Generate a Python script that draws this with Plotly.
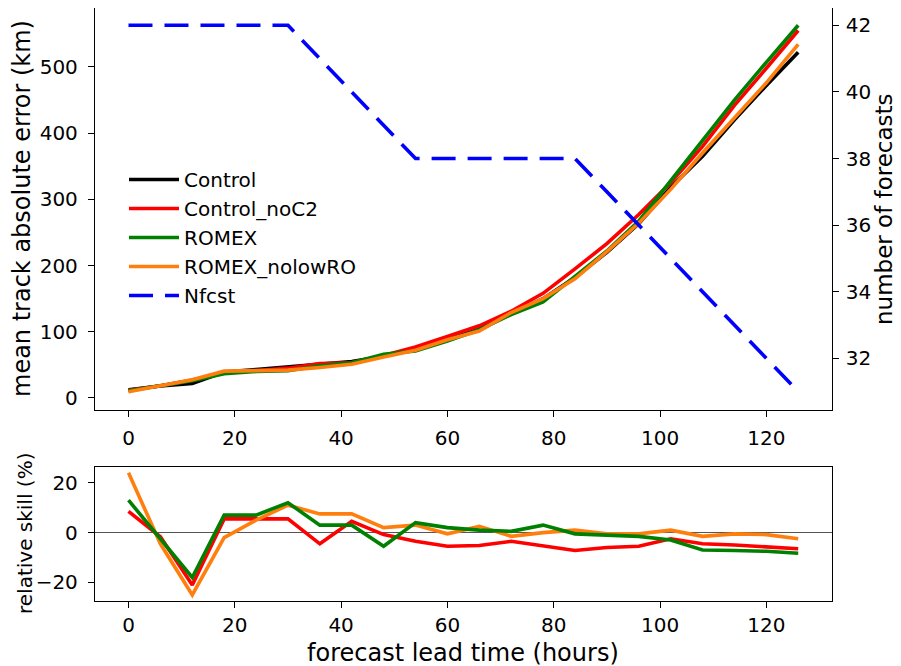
import plotly.graph_objects as go

# ---------------- data ----------------
lead_hours = [0, 6, 12, 18, 24, 30, 36, 42, 48, 54, 60, 66, 72, 78, 84, 90, 96, 102, 108, 114, 120, 126]

control = [12.5, 18, 22, 39, 43, 47, 50, 55, 63, 74, 88, 104, 127, 150, 182, 220, 263, 318, 365, 420, 472, 522]
control_noC2 = [11.4, 18.3, 27, 38, 41, 45, 52, 53, 64, 77, 93, 109, 131, 158, 195, 233, 277, 325, 380, 442, 498, 555]
romex = [10.9, 18.5, 26, 36.5, 40, 41, 48.5, 53, 66, 71, 86, 103, 126, 145, 183, 222, 267, 328, 390, 450, 507, 563]
romex_nolowRO = [9.5, 18.8, 27.5, 40.5, 41, 42, 46, 51, 62, 72, 88, 101, 129, 150, 180, 221, 264, 315, 370, 422, 476, 534]

nfcst = [42, 42, 42, 42, 42, 42, 41, 40, 39, 38, 38, 38, 38, 38, 38, 37, 36, 35, 34, 33, 32, 31]

skill_noC2 = [8.5, -1.7, -21, 5.5, 5.5, 5.5, -4.5, 4.5, -0.8, -3.5, -5.5, -5.2, -3.5, -5.2, -7.2, -6, -5.5, -2.5, -4.5, -5, -5.8, -6.5]
skill_romex = [13, -2.6, -18, 7, 7, 12, 3, 3, -5.5, 4, 2, 1, 0.5, 3, -0.5, -1, -1.5, -3, -7, -7.2, -7.5, -8.3]
skill_nolowRO = [24, -4.5, -25, -2, 5, 11, 7.5, 7.5, 2, 3, -0.5, 2.5, -1.5, 0, 1, -0.5, -0.5, 1, -1.5, -0.5, -0.8, -2.5]

x_ticks = [0, 20, 40, 60, 80, 100, 120]

# ---------------- styles ----------------
FONT = "DejaVu Sans"
LW = 3.6
C_BLACK = "#000000"
C_RED = "#ff0000"
C_GREEN = "#008000"
C_ORANGE = "#ff7f0e"
C_BLUE = "#0000ff"

# page has an 8px body margin: figure coords = page coords - 8
OFF = 8
W, H = 901 - OFF, 666 - OFF


def px(x):
    return (x - OFF) / W


def py(y):
    return 1 - (y - OFF) / H


fig = go.Figure()

# top panel
for name, vals, col in [("Control", control, C_BLACK),
                        ("Control_noC2", control_noC2, C_RED),
                        ("ROMEX", romex, C_GREEN),
                        ("ROMEX_nolowRO", romex_nolowRO, C_ORANGE)]:
    fig.add_trace(go.Scatter(x=lead_hours, y=vals, mode="lines", name=name,
                             line=dict(color=col, width=LW), xaxis="x", yaxis="y"))

fig.add_trace(go.Scatter(x=lead_hours, y=nfcst, mode="lines", name="Nfcst",
                         line=dict(color=C_BLUE, width=LW, dash="24px,12px"),
                         xaxis="x", yaxis="y2"))

# bottom panel
for vals, col in [(skill_noC2, C_RED), (skill_nolowRO, C_ORANGE), (skill_romex, C_GREEN)]:
    fig.add_trace(go.Scatter(x=lead_hours, y=vals, mode="lines", showlegend=False,
                             line=dict(color=col, width=LW), xaxis="x2", yaxis="y3"))

xdom = [px(95), px(831.7)]
axis_common = dict(showline=True, linecolor="black", linewidth=1.3, ticks="outside",
                   ticklen=6, tickwidth=1.3, tickcolor="black", showgrid=False,
                   tickfont=dict(family=FONT, size=20, color="black"))

fig.update_layout(
    width=W, height=H,
    margin=dict(l=0, r=0, t=0, b=0),
    paper_bgcolor="white", plot_bgcolor="white",
    font=dict(family=FONT, color="black"),
    xaxis=dict(domain=xdom, anchor="y", range=[-6.3, 132.3], tickvals=x_ticks,
               mirror=True, zeroline=False, ticklabelstandoff=4, **axis_common),
    yaxis=dict(domain=[py(410), 1.0], anchor="x", range=[-18.2, 589],
               tickvals=[0, 100, 200, 300, 400, 500], zeroline=False,
               ticklabelstandoff=6, **axis_common),
    yaxis2=dict(overlaying="y", side="right", anchor="x", range=[30.45, 42.52],
                tickvals=[32, 34, 36, 38, 40, 42], zeroline=False,
                ticklabelstandoff=3, **axis_common),
    xaxis2=dict(domain=xdom, anchor="y3", range=[-6.3, 132.3], tickvals=x_ticks,
                mirror=True, zeroline=False, ticklabelstandoff=0, **axis_common),
    yaxis3=dict(domain=[py(601), py(466.7)], anchor="x2", range=[-27.45, 26.45],
                tickvals=[-20, 0, 20], mirror=True, ticklabelstandoff=6,
                zeroline=True, zerolinecolor="#555555", zerolinewidth=1, **axis_common),
    legend=dict(x=px(124), y=1 - 152 / H, xanchor="left", yanchor="top",
                bgcolor="rgba(0,0,0,0)", borderwidth=0,
                font=dict(family=FONT, size=20, color="black"),
                tracegroupgap=0, itemwidth=50),
    showlegend=True,
)

annots = [
    dict(text="mean track absolute error (km)", x=px(22), y=py(209), textangle=-90,
         font=dict(family=FONT, size=24)),
    dict(text="number of forecasts", x=px(884), y=py(209), textangle=-90,
         font=dict(family=FONT, size=23)),
    dict(text="relative skill (%)", x=px(25), y=py(534), textangle=-90,
         font=dict(family=FONT, size=20)),
    dict(text="forecast lead time (hours)", x=px(463), y=py(653),
         font=dict(family=FONT, size=24)),
]
for a in annots:
    fig.add_annotation(xref="paper", yref="paper", showarrow=False,
                       xanchor="center", yanchor="middle", **a)

fig.write_html("out.html")
